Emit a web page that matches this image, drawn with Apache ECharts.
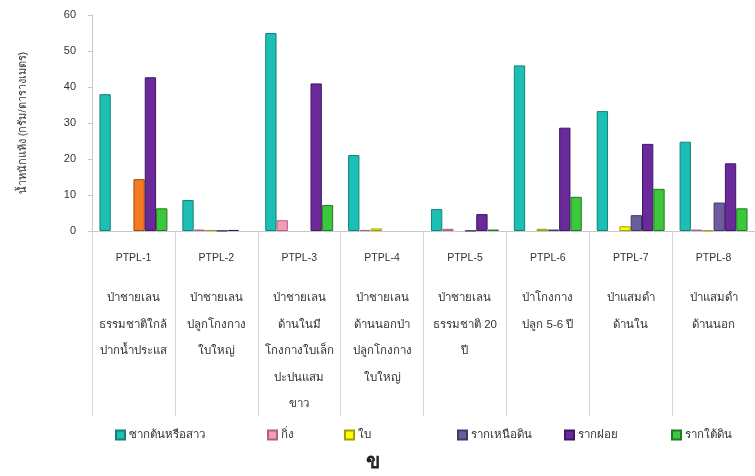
<!DOCTYPE html>
<html>
<head>
<meta charset="utf-8">
<script src="https://cdn.jsdelivr.net/npm/echarts@6/dist/echarts.min.js"></script>
<style>
  html, body { margin: 0; padding: 0; background: #fff; }
  #chart { width: 755px; height: 476px; }
</style>
</head>
<body>
<div id="chart"></div>
<script>
// Plot codes and their site descriptions (one entry per text line)
const plots = ['PTPL-1', 'PTPL-2', 'PTPL-3', 'PTPL-4', 'PTPL-5', 'PTPL-6', 'PTPL-7', 'PTPL-8'];
const plotDescriptions = [
  ['ป่าชายเลน', 'ธรรมชาติใกล้', 'ปากน้ำประแส'],
  ['ป่าชายเลน', 'ปลูกโกงกาง', 'ใบใหญ่'],
  ['ป่าชายเลน', 'ด้านในมี', 'โกงกางใบเล็ก', 'ปะปนแสม', 'ขาว'],
  ['ป่าชายเลน', 'ด้านนอกป่า', 'ปลูกโกงกาง', 'ใบใหญ่'],
  ['ป่าชายเลน', 'ธรรมชาติ 20', 'ปี'],
  ['ป่าโกงกาง', 'ปลูก 5-6 ปี'],
  ['ป่าแสมดำ', 'ด้านใน'],
  ['ป่าแสมดำ', 'ด้านนอก']
];

// Dry weight per component (g/m2)
const seriesNames = ['ซากต้นหรือสาว', 'กิ่ง', 'ใบ', 'รากเหนือดิน', 'รากฝอย', 'รากใต้ดิน'];
const stemValues      = [38.0, 8.6, 55.0, 21.1, 6.1, 46.0, 33.3, 24.8];
const branchValues    = [0, 0.4, 3.0, 0.3, 0.6, 0, 0, 0.4];
const leafValues      = [0, 0.3, 0, 0.7, 0, 0.6, 1.3, 0.2];
const aboveRootValues = [14.4, 0.1, 0, 0, 0.1, 0.4, 4.4, 7.9];
const fineRootValues  = [42.7, 0.3, 41.0, 0, 4.7, 28.7, 24.2, 18.8];
const belowRootValues = [6.3, 0, 7.2, 0, 0.4, 9.5, 11.7, 6.3];

const yTicks = [0, 10, 20, 30, 40, 50, 60];

const colors = ['#1cbfb4', '#f59ab8', '#ffff00', '#6c5c9e', '#6a2a9c', '#3cc83c'];
const borders = ['#15807a', '#b06080', '#a0a000', '#433866', '#3e1760', '#1f7a1f'];

const valueSets = [stemValues, branchValues, leafValues, aboveRootValues, fineRootValues, belowRootValues];

const thaiFont = 'sans-serif';

const series = seriesNames.map((name, i) => ({
  name: name,
  type: 'bar',
  barGap: '0%',
  barCategoryGap: '18%',
  itemStyle: { color: colors[i], borderColor: borders[i], borderWidth: 1 },
  data: valueSets[i].map((v, j) => {
    // nothing is drawn where a component is absent
    if (v === 0) return '-';
    // the PTPL-1 above-ground root bar is shown in orange
    if (i === 3 && j === 0) {
      return { value: v, itemStyle: { color: '#f47a20', borderColor: '#a04a10' } };
    }
    return v;
  })
}));

const legendX = [110, 262, 339, 452, 559, 666];
const legends = seriesNames.map((name, i) => ({
  data: [name],
  left: legendX[i],
  top: 424,
  itemWidth: 9,
  itemHeight: 9,
  itemGap: 0,
  icon: 'rect',
  textStyle: { fontFamily: thaiFont, fontSize: 11.5, color: '#333', padding: [0, 0, 0, -1] }
}));

const chart = echarts.init(document.getElementById('chart'), null, { renderer: 'canvas' });
chart.setOption({
  animation: false,
  backgroundColor: '#ffffff',
  grid: { left: 92, right: 0, top: 15, bottom: 245, containLabel: false },
  legend: legends,
  xAxis: {
    type: 'category',
    data: plots,
    axisLine: { lineStyle: { color: '#c8c8c8', width: 1 } },
    axisTick: { show: true, length: 185, lineStyle: { color: '#d4d4d4' } },
    axisLabel: {
      margin: 14,
      interval: 0,
      formatter: function (value, idx) {
        const lines = plotDescriptions[idx].map(t => '{d|' + t + '}');
        return '{p|' + value + '}\n{s| }\n' + lines.join('\n');
      },
      rich: {
        p: { fontFamily: 'Arial, Liberation Sans, sans-serif', fontSize: 10.5, color: '#333', lineHeight: 26 },
        s: { fontSize: 6, lineHeight: 14 },
        d: { fontFamily: thaiFont, fontSize: 11.5, color: '#333', lineHeight: 26.5 }
      }
    }
  },
  yAxis: {
    type: 'value',
    min: 0,
    max: 60,
    interval: 10,
    name: 'น้ำหนักแห้ง (กรัม/ตารางเมตร)',
    nameLocation: 'middle',
    nameGap: 64,
    nameRotate: 90,
    nameTextStyle: { fontFamily: thaiFont, fontSize: 11, color: '#333' },
    axisLine: { show: true, lineStyle: { color: '#c8c8c8' } },
    axisTick: { show: true, length: 4, lineStyle: { color: '#c8c8c8' } },
    axisLabel: {
      margin: 16,
      fontFamily: 'Arial, Liberation Sans, sans-serif',
      fontSize: 11,
      color: '#333',
      formatter: v => (yTicks.indexOf(v) >= 0 ? String(v) : '')
    },
    splitLine: { show: false }
  },
  graphic: [{
    type: 'text',
    left: 366,
    top: 452,
    style: { text: 'ข', font: 'bold 21px serif', fill: '#222' }
  }],
  series: series
});
</script>
</body>
</html>
